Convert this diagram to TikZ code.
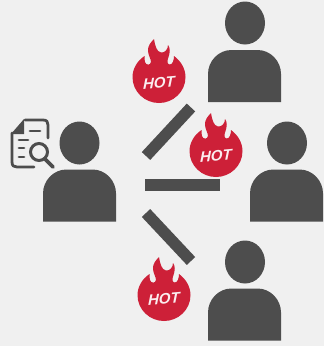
\documentclass[tikz,border=0pt]{standalone}
\usepackage{fontspec}
\setmainfont{Liberation Sans}
\usetikzlibrary{positioning, shapes.geometric}
\tikzset{
    headNode/.style={ellipse, fill=personGray, minimum width=40pt, minimum height=43pt, inner sep=0pt},
    linkBar/.style={draw=personGray, line width=11.5pt},
    hotText/.style={text=white!92!hotRed, inner sep=0pt, rotate=5, xslant=0.1, font=\fontsize{15}{16}\selectfont\bfseries\itshape},
    docLine/.style={draw=iconGray, line width=2.8pt, line cap=round, line join=round},
    person/.pic={
        \fill[personGray] (-36.5,26) -- (-36.5,-2) .. controls (-36.5,-15) and (-26,-26) .. (-13,-26)
            -- (13,-26) .. controls (26,-26) and (36.5,-15) .. (36.5,-2) -- (36.5,26) -- cycle;
    },
    hotflame/.pic={
        \fill[hotRed] (-5,-38) .. controls (-8,-35) and (-11.5,-31) .. (-11,-26)
            .. controls (-10.5,-21) and (-8,-18) .. (-8,-15)
            .. controls (-8.5,-11.5) and (-13,-11.5) .. (-14,-15)
            .. controls (-14.5,-17) and (-14.5,-19) .. (-14.5,-21)
            .. controls (-22,-16) and (-26.5,-8) .. (-26.5,0)
            .. controls (-26.5,15) and (-14,26) .. (0,26)
            .. controls (14,26) and (26.5,15) .. (26.5,0)
            .. controls (26.5,-8) and (22,-16) .. (15,-21)
            .. controls (15,-17) and (13.5,-12) .. (10.5,-12.5)
            .. controls (8,-13) and (8,-16) .. (9.5,-20)
            .. controls (11,-24) and (11.5,-29) .. (9,-32)
            .. controls (9,-28) and (6,-24) .. (2,-24.5)
            .. controls (-2,-25) and (-4,-31) .. (-5,-38) -- cycle;
    }
}
\definecolor{personGray}{RGB}{77,77,77}
\definecolor{iconGray}{RGB}{77,77,77}
\definecolor{hotRed}{RGB}{205,32,56}
\definecolor{bgGray}{RGB}{240,240,240}
\begin{document}
\begin{tikzpicture}[x=1pt, y=-1pt]
    \fill[bgGray] (0,0) rectangle (324,346);
    \useasboundingbox (0,0) rectangle (324,346);

    % People
    \node[headNode] (headLeft) at (79.5,143) {};
    \pic at (79.5,195.5) {person};
    \node[headNode] (headTop) at (245,23) {};
    \pic at (244.5,76) {person};
    \node[headNode] (headRight) at (287,143) {};
    \pic at (286.5,195.5) {person};
    \node[headNode] (headBottom) at (245,262) {};
    \pic at (244.5,314.5) {person};

    % Links
    \coordinate (upA) at (146,156);
    \coordinate (upB) at (191,107.5);
    \coordinate (midA) at (145,185);
    \coordinate (midB) at (220,185);
    \coordinate (lowA) at (146,213);
    \coordinate (lowB) at (191,261);
    \draw[linkBar] (upA) -- (upB);
    \draw[linkBar] (midA) -- (midB);
    \draw[linkBar] (lowA) -- (lowB);

    % Hot badges
    \pic at (159,77) {hotflame};
    \pic at (216,151) {hotflame};
    \pic at (164,295) {hotflame};
    \node[hotText] (hotTop) at (159,83) {HOT};
    \node[hotText] (hotRight) at (216,156) {HOT};
    \node[hotText] (hotBottom) at (164,299) {HOT};

    % Document and lens
    \draw[docLine] (25,120) -- (43,120) .. controls (47,120) and (48,122) .. (48,125) -- (48,138);
    \draw[docLine] (12,133) -- (12,162) .. controls (12,166) and (14,167) .. (17,167) -- (34,167);
    \fill[iconGray] (11,134) -- (24,119) -- (24,134) -- cycle;
    \draw[docLine] (30,131) -- (40,131);
    \draw[docLine] (19,140) -- (28,140);
    \draw[docLine] (19,148) -- (24,148);
    \draw[docLine] (19,157) -- (24,157);
    \draw[draw=iconGray, line width=3pt] (39,152) circle (8.5);
    \draw[docLine, line width=3.6pt] (45,159) -- (53,167);
\end{tikzpicture}
\end{document}
